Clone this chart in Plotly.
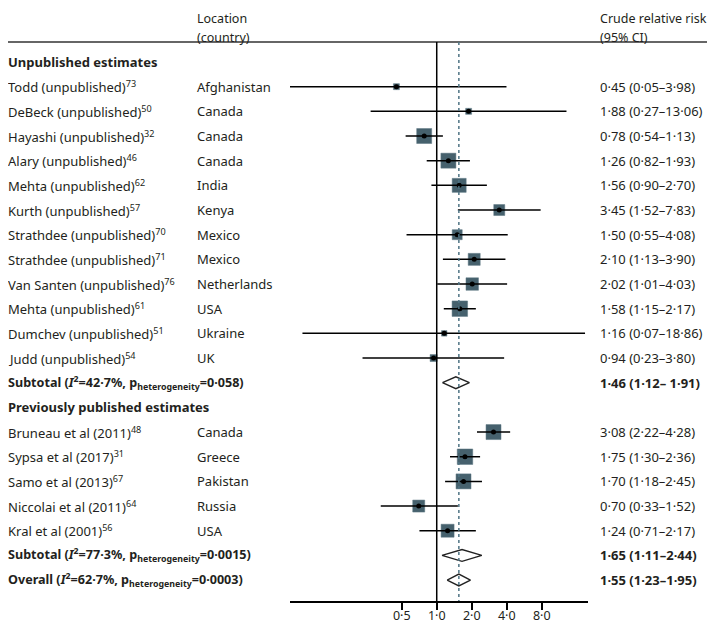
import math
import plotly.graph_objs as go

# unpublished estimates
unpub_names = ["Todd (unpublished)", "DeBeck (unpublished)", "Hayashi (unpublished)",
               "Alary (unpublished)", "Mehta (unpublished)", "Kurth (unpublished)",
               "Strathdee (unpublished)", "Strathdee (unpublished)", "Van Santen (unpublished)",
               "Mehta (unpublished)", "Dumchev (unpublished)", "Judd (unpublished)"]
unpub_refs = [73, 50, 32, 46, 62, 57, 70, 71, 76, 61, 51, 54]
unpub_country = ["Afghanistan", "Canada", "Canada", "Canada", "India", "Kenya",
                 "Mexico", "Mexico", "Netherlands", "USA", "Ukraine", "UK"]
unpub_rr = [0.45, 1.88, 0.78, 1.26, 1.56, 3.45, 1.50, 2.10, 2.02, 1.58, 1.16, 0.94]
unpub_lo = [0.05, 0.27, 0.54, 0.82, 0.90, 1.52, 0.55, 1.13, 1.01, 1.15, 0.07, 0.23]
unpub_hi = [3.98, 13.06, 1.13, 1.93, 2.70, 7.83, 4.08, 3.90, 4.03, 2.17, 18.86, 3.80]
unpub_weight = [6, 6, 15, 15, 14, 11, 10, 12, 12.5, 15.5, 5.5, 7]

# previously published estimates
pub_names = ["Bruneau et al (2011)", "Sypsa et al (2017)", "Samo et al (2013)",
             "Niccolai et al (2011)", "Kral et al (2001)"]
pub_refs = [48, 31, 67, 64, 56]
pub_country = ["Canada", "Greece", "Pakistan", "Russia", "USA"]
pub_rr = [3.08, 1.75, 1.70, 0.70, 1.24]
pub_lo = [2.22, 1.30, 1.18, 0.33, 0.71]
pub_hi = [4.28, 2.36, 2.45, 1.52, 2.17]
pub_weight = [15, 15.5, 15, 12, 13]

# pooled estimates: subtotal unpublished, subtotal published, overall
pool_labels = ["Subtotal", "Subtotal", "Overall"]
pool_i2 = ["42·7%", "77·3%", "62·7%"]
pool_p = ["0·058", "0·0015", "0·0003"]
pool_rr = [1.46, 1.65, 1.55]
pool_lo = [1.12, 1.11, 1.23]
pool_hi = [1.91, 2.44, 1.95]
pool_ci_sep = ["– ", "–", "–"]

tick_vals = [0.5, 1.0, 2.0, 4.0, 8.0]
tick_text = ["0·5", "1·0", "2·0", "4·0", "8·0"]

FONT = "Noto Sans"
FS = 13
TXT = "#231f20"
BOX = "#46616d"
DASH = "#4f7485"

# the page body has an 8px margin, so the figure is drawn 8px in from the corner
OFF = 8
W, H = 715 - OFF, 625 - OFF


def px(p):
    # page pixel -> paper x
    return max(p - OFF, 0) / W


def fmt(v):
    return f"{v:.2f}".replace(".", "·")


# assemble rows top to bottom
rows = []  # (kind, label, country, rr, lo, hi, weight, ci_sep)
rows.append(("head", "Unpublished estimates", "", None, None, None, None, None))
for n, r, c, e, l, h, w in zip(unpub_names, unpub_refs, unpub_country, unpub_rr,
                               unpub_lo, unpub_hi, unpub_weight):
    rows.append(("study", f"{n}<sup>{r}</sup>", c, e, l, h, w, "–"))
rows.append(("pool", 0, "", pool_rr[0], pool_lo[0], pool_hi[0], None, pool_ci_sep[0]))
rows.append(("head", "Previously published estimates", "", None, None, None, None, None))
for n, r, c, e, l, h, w in zip(pub_names, pub_refs, pub_country, pub_rr,
                               pub_lo, pub_hi, pub_weight):
    rows.append(("study", f"{n}<sup>{r}</sup>", c, e, l, h, w, "–"))
rows.append(("pool", 1, "", pool_rr[1], pool_lo[1], pool_hi[1], None, pool_ci_sep[1]))
rows.append(("pool", 2, "", pool_rr[2], pool_lo[2], pool_hi[2], None, pool_ci_sep[2]))

fig = go.Figure()
annotations = []


def note(x, y, text, size=FS):
    annotations.append(dict(x=px(x), y=y, xref="paper", yref="y", text=text,
                            showarrow=False, xanchor="left", yanchor="middle",
                            borderpad=0, borderwidth=0,
                            font=dict(family=FONT, size=size, color=TXT)))


ci_x, ci_y = [], []
sq_x, sq_y, sq_s = [], [], []

for i, (kind, label, country, rr, lo, hi, w, sep) in enumerate(rows):
    if kind == "head":
        note(5, i, f"<b>{label}</b>")
    elif kind == "pool":
        k = label
        note(5, i, f"<b>{pool_labels[k]} (<i>I</i><sup>2</sup>={pool_i2[k]}, "
                   f"p<sub>heterogeneity</sub>={pool_p[k]})</b>", size=12.6)
    else:
        note(5, i, label)
    if country:
        note(197, i, country)
    if rr is not None:
        ci = f"{fmt(rr)} ({fmt(lo)}{sep}{fmt(hi)})"
        if kind == "pool":
            ci = f"<b>{ci}</b>"
        note(600, i, ci)
    if kind == "study":
        ci_x += [lo, hi, None]
        ci_y += [i, i, None]
        sq_x.append(rr)
        sq_y.append(i)
        sq_s.append(w)
    elif kind == "pool":
        fig.add_trace(go.Scatter(x=[lo, rr, hi, rr, lo], y=[i, i - 0.24, i, i + 0.24, i],
                                 mode="lines", fill="toself", fillcolor="white",
                                 line=dict(color="#222222", width=1.4),
                                 hoverinfo="skip"))

# study boxes, CI lines and centre dots
fig.add_trace(go.Scatter(x=sq_x, y=sq_y, mode="markers",
                         marker=dict(symbol="square", size=sq_s, color=BOX, opacity=1,
                                     line=dict(color="#5d7782", width=0.5))))
fig.add_trace(go.Scatter(x=ci_x, y=ci_y, mode="lines",
                         line=dict(color="black", width=1.5), hoverinfo="skip"))
fig.add_trace(go.Scatter(x=sq_x, y=sq_y, mode="markers",
                         marker=dict(symbol="circle", size=5, color="black")))

# row i sits at page pixel 62 + 24.67*i ; plot area ends at page pixel 601
row_h = 24.67
top_row = -(62 - OFF) / row_h
bottom_row = (601 - 62) / row_h
header_line = (42 - 62) / row_h

# column headers
for xp, l1, l2 in [(197, "Location", "(country)"), (600, "Crude relative risk", "(95% CI)")]:
    note(xp, (18 - 62) / row_h, l1, size=12.5)
    note(xp, (37 - 62) / row_h, l2, size=12.5)

shapes = [
    dict(type="line", xref="paper", yref="y", x0=0, x1=1, y0=header_line, y1=header_line,
         line=dict(color="#333333", width=1.5)),
    dict(type="line", xref="x", yref="y", x0=1, x1=1, y0=header_line, y1=bottom_row,
         line=dict(color="black", width=1.5)),
    dict(type="line", xref="x", yref="y", x0=pool_rr[2], x1=pool_rr[2],
         y0=header_line, y1=bottom_row,
         line=dict(color=DASH, width=1.5, dash="3px,3px")),
]

layout = go.Layout(
    width=W, height=H,
    margin=dict(l=0, r=0, t=0, b=625 - 601, autoexpand=False),
    paper_bgcolor="white", plot_bgcolor="white",
    showlegend=False,
    xaxis=dict(type="log", domain=[px(290), px(588)],
               range=[math.log10(0.0547), math.log10(20.0)],
               automargin=False,
               showline=True, linecolor="black", linewidth=1.5,
               ticks="outside", ticklen=7, tickwidth=1.5, tickcolor="black",
               ticklabelstandoff=-5,
               tickvals=tick_vals, ticktext=tick_text,
               tickfont=dict(family=FONT, size=12.5, color=TXT),
               showgrid=False, zeroline=False),
    yaxis=dict(range=[bottom_row, top_row], visible=False, automargin=False,
               showgrid=False, zeroline=False),
    annotations=annotations,
    shapes=shapes,
)
fig.update_layout(layout)
fig.write_html("out.html")
